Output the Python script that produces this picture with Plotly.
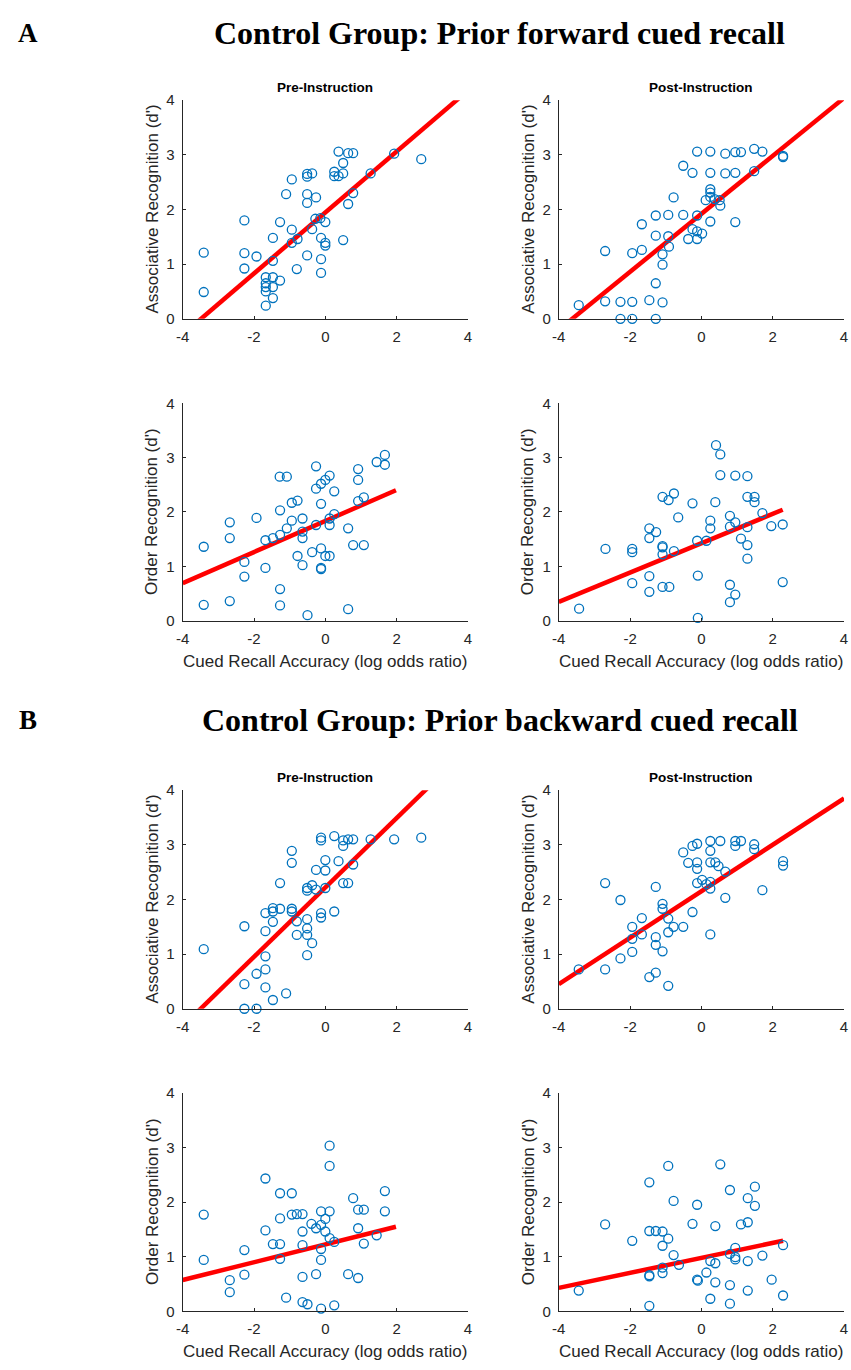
import numpy as np
import plotly.graph_objects as go

# ---------------- data ----------------
# Panel A, Pre-Instruction, Associative recognition
a_pre_assoc_x = [-3.41, -3.41, -2.27, -2.27, -2.27, -1.93, -1.67, -1.67, -1.67, -1.67, -1.67,
                 -1.47, -1.47, -1.47, -1.47, -1.47, -1.27, -1.27, -1.10, -0.94, -0.94, -0.94,
                 -0.78, -0.80, -0.51, -0.51, -0.37, -0.51, -0.51, -0.51, -0.37, -0.26, -0.28,
                 -0.14, -0.12, -0.12, -0.12, 0.00, 0.00, 0.00, 0.25, 0.25, 0.37, 0.37, 0.50,
                 0.50, 0.64, 0.78, 0.78, 0.64, 0.50, 1.27, 1.93, 2.69]
a_pre_assoc_y = [0.49, 1.21, 1.80, 1.20, 0.92, 1.14, 0.76, 0.65, 0.58, 0.50, 0.24,
                 0.76, 0.58, 0.38, 1.06, 1.48, 0.70, 1.77, 2.28, 2.55, 1.63, 1.39,
                 1.46, 0.91, 2.65, 2.60, 2.66, 2.28, 2.12, 1.16, 1.64, 2.22, 1.83,
                 1.84, 1.48, 1.09, 0.84, 1.77, 1.39, 1.34, 2.69, 2.61, 2.61, 3.06, 2.66,
                 2.85, 3.03, 3.03, 2.30, 2.10, 1.44, 2.66, 3.02, 2.92]

# Panel A, Post-Instruction, Associative recognition
a_post_assoc_x = [-3.44, -2.70, -2.70, -2.27, -2.27, -1.94, -1.94, -1.94, -1.67, -1.67, -1.46,
                  -1.28, -1.28, -1.28, -1.28, -1.09, -1.09, -1.09, -0.93, -0.93, -0.91, -0.78,
                  -0.51, -0.51, -0.37, -0.25, -0.25, -0.12, -0.12, -0.12, -0.12, 0.02, 0.12,
                  0.25, 0.25, 0.25, 0.25, 0.25, 0.25, 0.37, 0.51, 0.53, 0.67, 0.67, 0.95,
                  0.95, 0.95, 1.11, 1.48, 1.48, 1.71, 2.29, 2.29]
a_post_assoc_y = [0.25, 1.24, 0.32, 0.31, 0.00, 0.31, 0.00, 1.20, 1.26, 1.73, 0.34,
                  1.89, 1.52, 0.65, 0.00, 1.18, 0.99, 0.30, 1.90, 1.51, 1.32, 2.22,
                  2.80, 1.90, 1.46, 2.67, 1.64, 3.06, 1.89, 1.60, 1.46, 1.56, 2.17,
                  3.06, 2.67, 2.37, 2.31, 2.23, 1.78, 2.19, 2.17, 2.07, 3.02, 2.66, 3.05,
                  2.67, 1.77, 3.05, 3.11, 2.70, 3.06, 2.98, 2.96]

# Panel A, Pre-Instruction, Order recognition
a_pre_order_x = [-3.41, -3.41, -2.68, -2.68, -2.68, -2.27, -2.27, -1.93, -1.68, -1.68, -1.47,
                 -1.28, -1.08, -1.27, -1.27, -1.27, -1.27, -1.08, -0.94, -0.94, -0.78, -0.78,
                 -0.64, -0.64, -0.64, -0.64, -0.50, -0.37, -0.26, -0.26, -0.26, -0.12, -0.12,
                 -0.12, -0.12, -0.12, 0.00, 0.00, 0.12, 0.12, 0.12, 0.12, 0.25, 0.25, 0.64,
                 0.64, 0.78, 0.92, 0.92, 0.92, 1.08, 1.08, 1.44, 1.67, 1.67]
a_pre_order_y = [1.36, 0.29, 1.81, 1.52, 0.36, 1.08, 0.81, 1.89, 1.48, 0.97, 1.52,
                 2.65, 2.65, 2.03, 1.58, 0.58, 0.28, 1.70, 2.17, 1.84, 2.21, 1.19,
                 1.88, 1.64, 1.52, 1.02, 0.10, 1.26, 2.84, 2.43, 1.76, 2.15, 2.52,
                 1.33, 0.97, 0.95, 2.59, 1.19, 2.67, 1.88, 1.76, 1.19, 2.38, 1.96, 1.70,
                 0.21, 1.39, 2.79, 2.59, 2.20, 2.27, 1.39, 2.92, 3.05, 2.87]

# Panel A, Post-Instruction, Order recognition
a_post_order_x = [-3.43, -2.69, -1.94, -1.94, -1.94, -1.46, -1.46, -1.46, -1.46, -1.27, -1.09,
                  -1.09, -1.09, -1.09, -1.09, -0.92, -0.90, -0.77, -0.77, -0.65, -0.25, -0.12,
                  -0.10, -0.10, 0.14, 0.25, 0.25, 0.39, 0.41, 0.53, 0.53, 0.80, 0.80, 0.80,
                  0.80, 0.95, 0.95, 0.95, 1.11, 1.29, 1.29, 1.29, 1.29, 1.29, 1.49, 1.49,
                  1.71, 1.96, 2.28, 2.28]
a_post_order_y = [0.22, 1.32, 1.32, 1.26, 0.69, 1.70, 1.52, 0.82, 0.53, 1.63, 2.28,
                  1.37, 1.35, 1.22, 0.62, 2.22, 0.62, 2.34, 1.28, 1.90, 2.16, 1.47,
                  0.83, 0.05, 1.47, 1.84, 1.70, 2.18, 3.23, 3.06, 2.68, 1.93, 1.73, 0.66,
                  0.34, 2.67, 1.81, 0.48, 1.51, 2.66, 2.28, 1.72, 1.39, 1.14, 2.28, 2.18,
                  1.98, 1.74, 1.77, 0.71]

# Panel B, Pre-Instruction, Associative recognition
b_pre_assoc_x = [-3.41, -2.27, -2.27, -2.27, -1.93, -1.93, -1.68, -1.68, -1.68, -1.68, -1.68,
                 -1.47, -1.47, -1.47, -1.47, -1.27, -1.27, -1.10, -0.94, -0.94, -0.94, -0.94,
                 -0.80, -0.80, -0.51, -0.51, -0.51, -0.51, -0.51, -0.51, -0.37, -0.37, -0.26,
                 -0.26, -0.12, -0.12, -0.12, -0.12, 0.00, 0.00, 0.00, 0.25, 0.25, 0.37, 0.50,
                 0.50, 0.50, 0.64, 0.64, 0.78, 0.78, 1.27, 1.93, 2.69]
b_pre_assoc_y = [1.09, 1.51, 0.45, 0.00, 0.00, 0.64, 1.75, 1.42, 0.96, 0.72, 0.39,
                 1.84, 1.78, 1.59, 0.16, 1.83, 2.30, 0.28, 2.89, 2.67, 1.83, 1.78,
                 1.60, 1.35, 2.21, 2.16, 1.64, 1.47, 1.35, 0.98, 2.26, 1.20, 2.54,
                 2.18, 3.13, 3.08, 1.75, 1.67, 2.72, 2.53, 2.21, 3.16, 1.78, 2.70, 3.08,
                 2.98, 2.30, 3.10, 2.30, 3.10, 2.64, 3.10, 3.10, 3.13]

# Panel B, Post-Instruction, Associative recognition
b_post_assoc_x = [-3.44, -2.70, -2.70, -2.27, -2.27, -1.94, -1.94, -1.94, -1.67, -1.67, -1.46,
                  -1.28, -1.28, -1.28, -1.28, -1.09, -1.09, -1.09, -0.93, -0.93, -0.93, -0.78,
                  -0.51, -0.51, -0.37, -0.25, -0.25, -0.12, -0.12, -0.12, -0.12, 0.02, 0.14,
                  0.25, 0.25, 0.25, 0.25, 0.25, 0.25, 0.39, 0.48, 0.53, 0.67, 0.67, 0.95,
                  0.95, 1.11, 1.48, 1.48, 1.71, 2.29, 2.29]
b_post_assoc_y = [0.72, 2.30, 0.72, 1.99, 0.92, 1.50, 1.28, 1.04, 1.66, 1.36, 0.58,
                  2.23, 1.31, 1.17, 0.66, 1.92, 1.83, 1.05, 1.65, 1.40, 0.42, 1.50,
                  2.86, 1.50, 2.67, 2.98, 1.77, 3.02, 2.68, 2.56, 2.30, 2.36, 2.28,
                  3.07, 2.89, 2.68, 2.32, 2.20, 1.36, 2.68, 2.61, 3.07, 2.51, 2.03, 3.07,
                  2.98, 3.07, 3.01, 2.92, 2.17, 2.70, 2.62]

# Panel B, Pre-Instruction, Order recognition
b_pre_order_x = [-3.41, -3.41, -2.68, -2.68, -2.27, -2.27, -1.68, -1.68, -1.47, -1.27, -1.27,
                 -1.27, -1.27, -1.10, -0.94, -0.94, -0.80, -0.64, -0.64, -0.64, -0.64, -0.64,
                 -0.50, -0.39, -0.26, -0.26, -0.12, -0.12, -0.12, -0.12, -0.12, 0.00, 0.00,
                 0.12, 0.12, 0.12, 0.12, 0.25, 0.25, 0.64, 0.78, 0.92, 0.92, 0.92, 1.08,
                 1.08, 1.44, 1.67, 1.67]
b_pre_order_y = [1.77, 0.94, 0.57, 0.35, 1.12, 0.67, 2.43, 1.48, 1.23, 2.16, 1.70,
                 1.23, 0.96, 0.25, 2.16, 1.77, 1.78, 1.78, 1.46, 1.21, 0.63, 0.17,
                 0.13, 1.60, 1.52, 0.68, 1.83, 1.58, 1.14, 0.94, 0.05, 1.69, 1.46,
                 3.03, 2.66, 1.83, 1.34, 1.27, 0.11, 0.68, 2.07, 1.86, 1.52, 0.61, 1.86,
                 1.24, 1.39, 2.20, 1.83]

# Panel B, Post-Instruction, Order recognition
b_post_order_x = [-3.44, -2.70, -1.94, -1.46, -1.46, -1.46, -1.46, -1.46, -1.28, -1.09, -1.09,
                  -1.09, -1.09, -0.93, -0.93, -0.78, -0.78, -0.63, -0.25, -0.12, -0.12, -0.10,
                  0.14, 0.25, 0.25, 0.39, 0.39, 0.39, 0.53, 0.80, 0.80, 0.80, 0.80, 0.95,
                  0.95, 0.95, 1.11, 1.30, 1.30, 1.30, 1.30, 1.50, 1.50, 1.71, 1.97, 2.29, 2.29]
b_post_order_y = [0.38, 1.59, 1.29, 2.36, 1.47, 0.66, 0.64, 0.10, 1.47, 1.46, 1.20,
                  0.80, 0.70, 2.66, 1.33, 2.02, 1.03, 0.85, 1.60, 1.95, 0.58, 0.56,
                  0.71, 0.92, 0.23, 1.56, 0.88, 0.53, 2.69, 2.22, 1.05, 0.48, 0.14, 1.16,
                  0.99, 0.95, 1.59, 2.07, 1.63, 0.92, 0.38, 2.28, 1.93, 1.02, 0.58, 1.21, 0.29]

# Fitted regression lines as shown in the reference (slope, intercept, x-extent)
fit_slope = [0.558, 0.530, 0.286, 0.270, 0.635, 0.425, 0.163, 0.137]
fit_intercept = [1.945, 1.920, 1.834, 1.425, 2.220, 2.150, 1.225, 0.978]
fit_x_start = [-4, -4, -4, -4, -4, -4, -4, -4]
fit_x_end = [4, 4, 1.98, 2.28, 4, 4, 1.98, 2.29]

x_tick_vals = [-4, -2, 0, 2, 4]
x_tick_text = ["-4", "-2", "0", "2", "4"]
y_tick_vals = [0, 1, 2, 3, 4]
y_tick_text = ["0", "1", "2", "3", "4"]

panel_titles = ["Pre-Instruction", "Post-Instruction"]
y_titles = ["Associative Recognition (d')", "Order Recognition (d')"]
x_title = "Cued Recall Accuracy (log odds ratio)"
section_letters = ["A", "B"]
section_titles = ["Control Group: Prior forward cued recall",
                  "Control Group: Prior backward cued recall"]

panels = [
    (a_pre_assoc_x, a_pre_assoc_y), (a_post_assoc_x, a_post_assoc_y),
    (a_pre_order_x, a_pre_order_y), (a_post_order_x, a_post_order_y),
    (b_pre_assoc_x, b_pre_assoc_y), (b_post_assoc_x, b_post_assoc_y),
    (b_pre_order_x, b_pre_order_y), (b_post_order_x, b_post_order_y),
]

# ---------------- layout geometry ----------------
W, H = 851, 1370
col_px = [(178, 467), (559, 848)]
row_px = [(92.3, 313.7), (399.3, 619.3), (791.0, 1012.3), (1097.3, 1318.7)]

AX_COL = "#262626"
TXT_COL = "#262626"
FONT = "Liberation Sans, Arial, Helvetica, sans-serif"
MARK_COL = "#0072BD"

fig = go.Figure()
layout_axes = {}
annotations = []

for i, (xs, ys) in enumerate(panels):
    r, c = divmod(i, 2)
    k = i + 1
    xa = "x" if k == 1 else f"x{k}"
    ya = "y" if k == 1 else f"y{k}"
    xdom = [col_px[c][0] / W, col_px[c][1] / W]
    ydom = [1 - row_px[r][1] / H, 1 - row_px[r][0] / H]

    lx = np.array([fit_x_start[i], fit_x_end[i]])
    ly = fit_slope[i] * lx + fit_intercept[i]

    fig.add_trace(go.Scatter(x=lx, y=ly, mode="lines", xaxis=xa, yaxis=ya,
                             line=dict(color="#FF0000", width=4.5),
                             showlegend=False, hoverinfo="skip"))
    fig.add_trace(go.Scatter(x=xs, y=ys, mode="markers", xaxis=xa, yaxis=ya,
                             marker=dict(symbol="circle-open", size=9,
                                         color=MARK_COL, line=dict(width=1.3, color=MARK_COL)),
                             cliponaxis=False, showlegend=False))

    common = dict(showline=True, linecolor=AX_COL, linewidth=1, ticks="inside",
                  ticklen=3, tickcolor=AX_COL, tickwidth=1, showgrid=False,
                  zeroline=False, mirror=False, fixedrange=True,
                  tickfont=dict(family=FONT, size=15, color=TXT_COL),
                  ticklabelstandoff=4)
    layout_axes["xaxis" if k == 1 else f"xaxis{k}"] = dict(
        domain=xdom, anchor=ya, range=[-4, 4], tickmode="array",
        tickvals=x_tick_vals, ticktext=x_tick_text, **common)
    layout_axes["yaxis" if k == 1 else f"yaxis{k}"] = dict(
        domain=ydom, anchor=xa, range=[0, 4], tickmode="array",
        tickvals=y_tick_vals, ticktext=y_tick_text, **common)

    xc = (col_px[c][0] + col_px[c][1]) / 2 / W
    yc = 1 - (row_px[r][0] + row_px[r][1]) / 2 / H
    # y-axis title
    annotations.append(dict(text=y_titles[r % 2], xref="paper", yref="paper",
                            x=(col_px[c][0] - 31) / W, y=yc, textangle=-90,
                            showarrow=False, xanchor="center", yanchor="middle",
                            font=dict(family=FONT, size=17, color=TXT_COL)))
    if r % 2 == 0:
        annotations.append(dict(text=f"<b>{panel_titles[c]}</b>", xref="paper", yref="paper",
                                x=xc, y=1 - (row_px[r][0] - 13) / H, showarrow=False,
                                xanchor="center", yanchor="middle",
                                font=dict(family=FONT, size=13.5, color="#000000")))
    else:
        annotations.append(dict(text=x_title, xref="paper", yref="paper",
                                x=xc, y=1 - (row_px[r][1] + 41) / H, showarrow=False,
                                xanchor="center", yanchor="middle",
                                font=dict(family=FONT, size=17, color=TXT_COL)))

# Section headings
SERIF = "Liberation Serif, Times New Roman, serif"
for s, (letter, title) in enumerate(zip(section_letters, section_titles)):
    ypx = [24, 720][s]
    annotations.append(dict(text=f"<b>{letter}</b>", xref="paper", yref="paper",
                            x=21 / W, y=1 - ypx / H, showarrow=False,
                            xanchor="center", yanchor="middle",
                            font=dict(family=SERIF, size=27, color="#000000")))
    annotations.append(dict(text=f"<b>{title}</b>", xref="paper", yref="paper",
                            x=499 / W, y=1 - ypx / H, showarrow=False,
                            xanchor="center", yanchor="middle",
                            font=dict(family=SERIF, size=32, color="#000000")))

fig.update_layout(width=W, height=H, margin=dict(l=0, r=0, t=0, b=0),
                  paper_bgcolor="white", plot_bgcolor="white",
                  annotations=annotations, **layout_axes)

fig.write_html("out.html")
